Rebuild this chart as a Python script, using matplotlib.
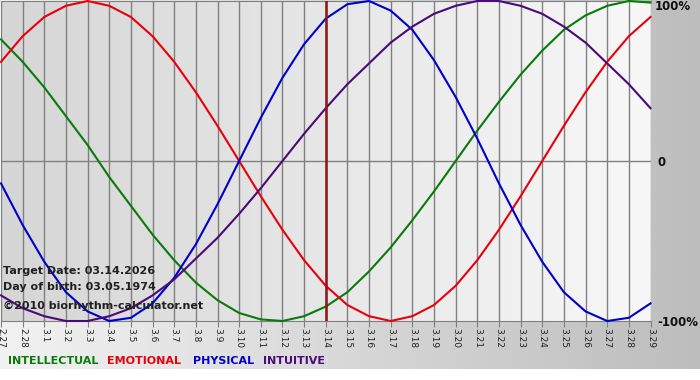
import matplotlib.pyplot as plt
import numpy as np
from matplotlib.colors import LinearSegmentedColormap

# days shown on the x axis (2.27 .. 3.29)
days = ['2.27', '2.28'] + [f'3.{d}' for d in range(1, 30)]

# biorhythm values, one per day
physical = [-0.14, -0.40, -0.63, -0.82, -0.94, -1.00, -0.98, -0.89, -0.73, -0.52, -0.27,
            0.00, 0.27, 0.52, 0.73, 0.89, 0.98, 1.00, 0.94, 0.82, 0.63, 0.40, 0.14,
            -0.14, -0.40, -0.63, -0.82, -0.94, -1.00, -0.98, -0.89]
emotional = [0.62, 0.78, 0.90, 0.97, 1.00, 0.97, 0.90, 0.78, 0.62, 0.43, 0.22,
             0.00, -0.22, -0.43, -0.62, -0.78, -0.90, -0.97, -1.00, -0.97, -0.90, -0.78, -0.62,
             -0.43, -0.22, 0.00, 0.22, 0.43, 0.62, 0.78, 0.90]
intellectual = [0.76, 0.62, 0.46, 0.28, 0.10, -0.10, -0.28, -0.46, -0.62, -0.76, -0.87,
                -0.95, -0.99, -1.00, -0.97, -0.91, -0.82, -0.69, -0.54, -0.37, -0.19,
                0.00, 0.19, 0.37, 0.54, 0.69, 0.82, 0.91, 0.97, 1.00, 0.99]
intuitive = [-0.84, -0.92, -0.97, -1.00, -1.00, -0.97, -0.92, -0.84, -0.74, -0.61, -0.48,
             -0.33, -0.17, 0.00, 0.17, 0.33, 0.48, 0.61, 0.74, 0.84, 0.92, 0.97, 1.00,
             1.00, 0.97, 0.92, 0.84, 0.74, 0.61, 0.48, 0.33]
target_idx = 15  # 3.14

series = [('INTELLECTUAL', intellectual, '#0a7a0a'),
          ('EMOTIONAL', emotional, '#e8000a'),
          ('PHYSICAL', physical, '#0000cc'),
          ('INTUITIVE', intuitive, '#4a0a78')]
legend_x = [8, 107, 193, 263]

fig = plt.figure(figsize=(7, 3.8), dpi=100)
fig.patch.set_facecolor('white')

# grey panel behind everything (light on the left, darker on the right)
bg = fig.add_axes([0, 11 / 380, 1, 369 / 380], zorder=-10)
grad = np.linspace(0, 1, 256).reshape(1, -1)
bg.imshow(grad, aspect='auto', cmap=LinearSegmentedColormap.from_list('pan', ['#f2f2f2', '#bdbdbd']),
          extent=[0, 1, 0, 1])
bg.axis('off')

ax = fig.add_axes([1 / 700, (380 - 321) / 380, 649.5 / 700, 320 / 380])
ax.imshow(grad, aspect='auto', cmap=LinearSegmentedColormap.from_list('plot', ['#d6d6d6', '#f8f8f8']),
          extent=[0, 30, -1, 1], zorder=0)

x = np.arange(len(days))
for name, vals, col in series:
    ax.plot(x, vals, color=col, lw=1.5, zorder=3, clip_on=False, solid_joinstyle='round')

ax.axvline(target_idx, color='#8b1414', lw=1.8, zorder=4)
ax.axhline(0, color='#808080', lw=1, zorder=1)

ax.set_xlim(0, 30)
ax.set_ylim(-1, 1)
ax.set_xticks(x)
ax.set_xticklabels(days, rotation=-90, fontsize=6.5, color='#202020')
ax.set_yticks([])
ax.tick_params(axis='x', length=4, color='#808080', pad=1)
ax.grid(axis='x', color='#808080', lw=1, zorder=1)
for s in ax.spines.values():
    s.set_color('#808080')
ax.spines['left'].set_visible(False)
ax.spines['right'].set_visible(False)

# text inside the chart
fig.text(3 / 700, 1 - 271 / 380, 'Target Date: 03.14.2026', fontsize=8, fontweight='bold',
         color='#202020', va='center')
fig.text(3 / 700, 1 - 287 / 380, 'Day of birth: 03.05.1974', fontsize=8, fontweight='bold',
         color='#202020', va='center')
fig.text(3 / 700, 1 - 306 / 380, '\u00a92010 biorhythm-calculator.net', fontsize=8, fontweight='bold',
         color='#202020', va='center')

# percent labels on the right
fig.text(655 / 700, 1 - 7 / 380, '100%', fontsize=8.5, fontweight='bold', color='#101010', va='center')
fig.text(657 / 700, 1 - 162 / 380, '0', fontsize=8.5, fontweight='bold', color='#101010', va='center')
fig.text(657 / 700, 1 - 322 / 380, '-100%', fontsize=8.5, fontweight='bold', color='#101010', va='center')

# coloured legend words
for (name, vals, col), lx in zip(series, legend_x):
    fig.text(lx / 700, 1 - 361 / 380, name, fontsize=8, fontweight='bold', color=col, va='center')

plt.savefig('out.png', dpi=100)
